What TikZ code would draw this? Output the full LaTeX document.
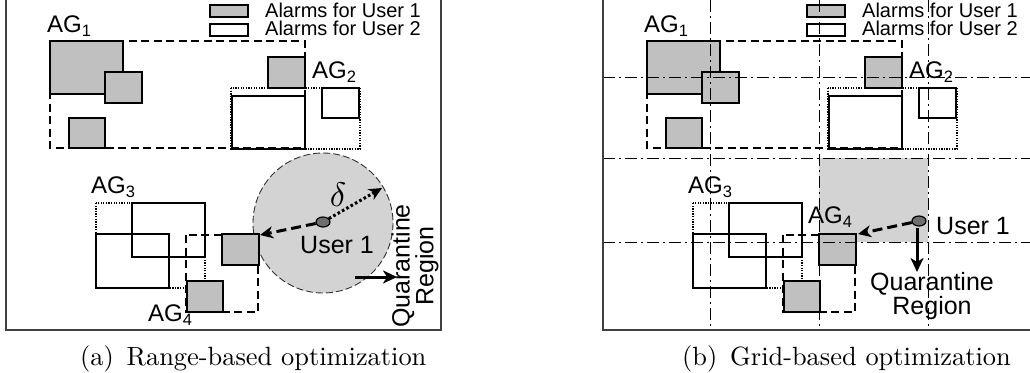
\documentclass[tikz,border=0pt]{standalone}
\usepackage{fontspec}
\usetikzlibrary{arrows.meta,shapes.geometric}
\newfontfamily\arialfont{Liberation Sans}

\definecolor{alarmgray}{HTML}{C0C0C0}
\definecolor{zonegray}{HTML}{D3D3D3}
\definecolor{usergray}{HTML}{6E6E6E}
\definecolor{framegray}{HTML}{404040}

% lowered subscript digit for the AG labels
\newcommand\agsub[1]{\raisebox{-4pt}{\fontsize{16.5}{16.5}\selectfont #1}}
% caption text, set at 10pt and enlarged
\newcommand\bigcaption[1]{\scalebox{2.64}{\fontsize{10}{12}\selectfont #1}}

\tikzset{
  alarmA/.style={draw=black, line width=1.9pt, fill=alarmgray},
  alarmB/.style={draw=black, line width=1.9pt},
  grpdash/.style={draw=black, line width=1.4pt, dash pattern=on 8pt off 4.5pt},
  grpdot/.style={draw=black, line width=1.5pt, dash pattern=on 1.3pt off 1.3pt},
  gridline/.style={draw=black, line width=0.9pt, dash pattern=on 12pt off 4pt on 2pt off 4pt},
  panelframe/.style={draw=framegray, line width=1.4pt},
  sanslbl/.style={inner sep=0pt, anchor=base west, font=\arialfont\fontsize{24}{24}\selectfont},
  legendlbl/.style={inner sep=0pt, anchor=base west, align=left,
    font=\arialfont\fontsize{20}{18}\selectfont},
  captionlbl/.style={inner sep=0pt, anchor=base west},
  userdot/.style={ellipse, draw=black, line width=1.2pt, fill=usergray,
    minimum width=14pt, minimum height=10pt, inner sep=0pt},
  reacharrow/.style={line width=3pt, dash pattern=on 10pt off 5pt,
    -{Stealth[length=13pt, width=12pt, inset=4pt]}},
  radiusarrow/.style={line width=3pt, dash pattern=on 2.6pt off 2.4pt,
    -{Stealth[length=13pt, width=12pt, inset=4pt]}},
  qarrow/.style={line width=3pt, -{Stealth[length=14pt, width=13pt, inset=4pt]}},
  qlbl/.style={inner sep=0pt, align=center, font=\arialfont\fontsize{25}{21.5}\selectfont},
}

% legend and the four alarm groups, shared by both panels
\newcommand\alarmlayout{%
  \draw[alarmA] (210,5) rectangle (248,17);
  \draw[alarmB, fill=white] (210,24) rectangle (248,36);
  \node[legendlbl, anchor=north west] (leg) at (265,2.5) {Alarms for User 1\\Alarms for User 2};
  % AG1
  \node[sanslbl] (ag1) at (47,32) {AG\agsub{1}};
  \draw[grpdash] (50,41) rectangle (305,148);
  \draw[alarmA] (50,41) rectangle (123,94);
  \draw[alarmA] (105,72) rectangle (142,103);
  \draw[alarmA] (69,118) rectangle (105,148);
  % AG2
  \node[sanslbl] (ag2) at (312,78) {AG\agsub{2}};
  \draw[grpdot] (231,88) rectangle (360,149);
  \draw[alarmA] (268,57) rectangle (305,88);
  \draw[alarmB] (232,96) rectangle (305,149);
  \draw[alarmB] (322,88) rectangle (359,118);
  % AG3
  \node[sanslbl] (ag3) at (91,193) {AG\agsub{3}};
  \draw[grpdot] (96,203) rectangle (205,288);
  \draw[alarmB] (96,234) rectangle (169,288);
  \draw[alarmB] (132,203) rectangle (205,257);
  % AG4
  \draw[grpdash] (186,235) rectangle (258,312);
  \draw[alarmA] (222,234) rectangle (259,265);
  \draw[alarmA] (187,281) rectangle (223,312);
}

\begin{document}
\begin{tikzpicture}[x=1pt, y=-1pt]
\useasboundingbox (0,0) rectangle (1030,372);

% ---------- (a) range-based ----------
\begin{scope}[name prefix=a-]
  \draw[fill=zonegray, draw=black!80, line width=0.9pt, dash pattern=on 7pt off 3pt]
    (323,223) circle[radius=70];
  \alarmlayout
  \node[sanslbl] (ag4) at (148,321) {AG\agsub{4}};
  \node[userdot] (u1) at (323,222) {};
  \coordinate (reach) at (260,235);
  \coordinate (rim) at (382,188);
  \draw[reacharrow] (u1) -- (reach);
  \draw[radiusarrow] (u1) -- (rim);
  \node[inner sep=0pt] (delta) at (338,195) {\scalebox{3.4}{$\delta$}};
  \node[sanslbl, font=\arialfont\fontsize{25}{25}\selectfont] (u1lbl) at (300,253) {User 1};
  \coordinate (qa0) at (355,277);
  \coordinate (qa1) at (397,277);
  \draw[qarrow] (qa0) -- (qa1);
  \node[qlbl, rotate=90] (qreg) at (415,266) {Quarantine\\Region};
  \draw[panelframe] (6,-2) -- (6,330) -- (441,330) -- (441,-2);
  \node[captionlbl] (cap) at (80,365) {\bigcaption{(a)\hspace{1.5pt} Range-based optimization}};
\end{scope}

% ---------- (b) grid-based ----------
\fill[zonegray] (819,158) rectangle (928,242);
\begin{scope}[xshift=597pt, name prefix=b-]
  \alarmlayout
\end{scope}
\begin{scope}[name prefix=b-]
  \foreach \gx in {710,819,928} \draw[gridline] (\gx,0) -- (\gx,330);
  \foreach \gy in {77,158,242} \draw[gridline] (603,\gy) -- (1030,\gy);
  \node[sanslbl] (ag4) at (808,223) {AG\agsub{4}};
  \node[userdot] (u1) at (919,221) {};
  \coordinate (reach) at (858,234);
  \draw[reacharrow] (u1) -- (reach);
  \node[sanslbl, font=\arialfont\fontsize{25}{25}\selectfont] (u1lbl) at (936,234) {User 1};
  \coordinate (qb0) at (917,228);
  \coordinate (qb1) at (917,272);
  \draw[qarrow] (qb0) -- (qb1);
  \node[qlbl] (qreg) at (932,296) {Quarantine\\Region};
  \draw[panelframe] (603,-2) -- (603,330) -- (1032,330);
  \node[captionlbl] (cap) at (682,365) {\bigcaption{(b)\hspace{1.5pt} Grid-based optimization}};
\end{scope}
\end{tikzpicture}
\end{document}
